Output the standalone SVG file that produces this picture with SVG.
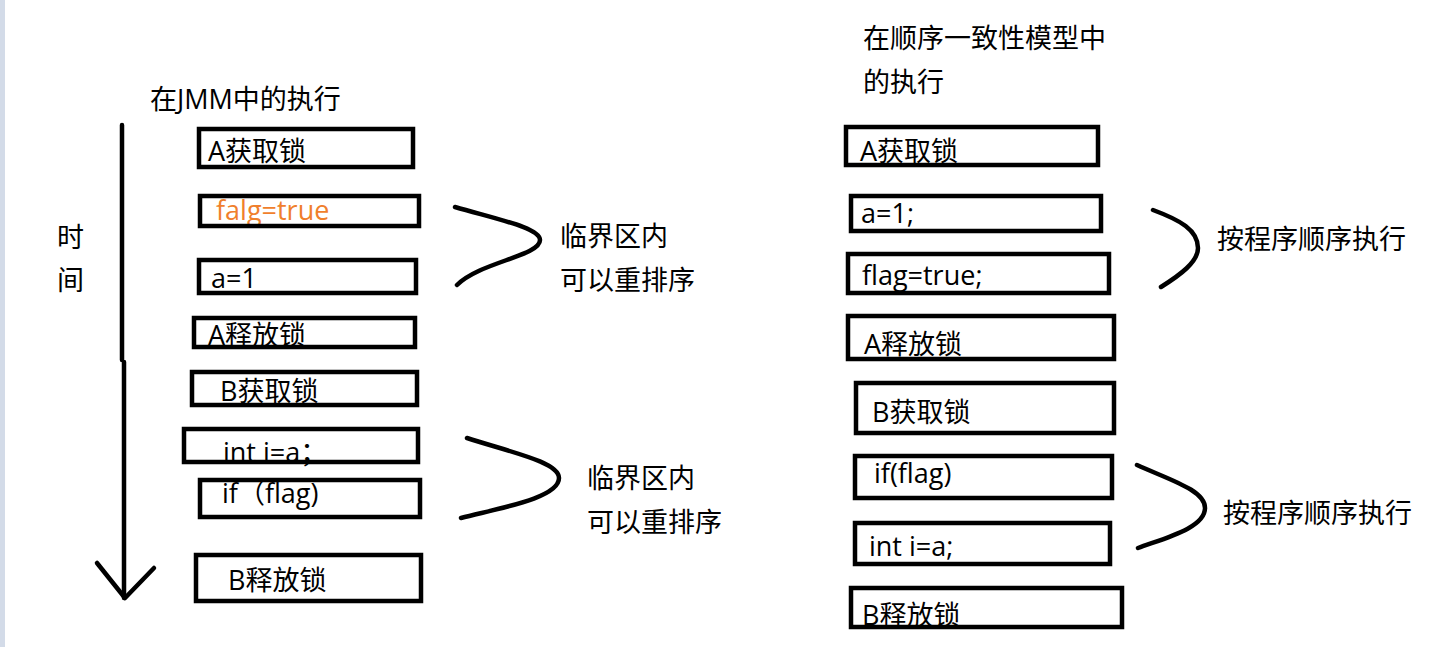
<svg xmlns="http://www.w3.org/2000/svg" width="1448" height="647" viewBox="0 0 1448 647">
<style>
text{font-family:"Open Sans","Noto Sans CJK SC",sans-serif;font-size:27px;fill:#000}
.box{fill:none;stroke:#000;stroke-width:4.5}
.ln{fill:none;stroke:#000;stroke-width:4.5;stroke-linecap:round;stroke-linejoin:round}
.or{fill:#f07f2c}
</style>
<rect x="0" y="0" width="1448" height="647" fill="#ffffff"/>
<rect x="0" y="0" width="5" height="647" fill="#d3dbe8"/>

<g id="title-left"><text x="150" y="109">在JMM中的执行</text></g>
<g id="title-right"><text x="863" y="48">在顺序一致性模型中</text><text x="863" y="92">的执行</text></g>
<g id="time-label"><text x="57" y="247">时</text><text x="57" y="290">间</text></g>

<g id="connectors">
<path class="ln" d="M122,125 L122,360 M124,362 L124,598"/>
<path class="ln" d="M97,563 L125,598 L154,568"/>
<path class="ln" d="M455,207 C500,220 540,228 540,240 C540,256 480,262 457,285"/>
<path class="ln" d="M467,438 C510,452 559,462 559,478 C559,498 500,508 461,518"/>
<path class="ln" d="M1153,210 C1180,220 1198,230 1198,248 C1198,262 1180,275 1161,287"/>
<path class="ln" d="M1137,465 C1170,480 1205,490 1205,508 C1205,528 1165,538 1138,548"/>
</g>

<g id="l1"><text x="208" y="161">A获取锁</text><rect class="box" x="199" y="129" width="214" height="38"/></g>
<g id="l2"><text class="or" x="216" y="220">falg=true</text><rect class="box" x="200" y="196" width="219" height="30"/></g>
<g id="l3"><text x="211" y="288">a=1</text><rect class="box" x="199" y="260" width="217" height="33"/></g>
<g id="l4"><text x="208" y="345">A释放锁</text><rect class="box" x="194" y="318" width="221" height="29"/></g>
<g id="l5"><text x="220" y="401">B获取锁</text><rect class="box" x="192" y="372" width="225" height="33"/></g>
<g id="l6"><text x="223" y="462">int i=a；</text><rect class="box" x="184" y="429" width="234" height="33"/></g>
<g id="l7"><text x="222" y="503">if（flag)</text><rect class="box" x="200" y="480" width="220" height="37"/></g>
<g id="l8"><text x="228" y="590">B释放锁</text><rect class="box" x="196" y="555" width="225" height="46"/></g>

<g id="note-l1"><text x="560" y="246">临界区内</text><text x="560" y="290">可以重排序</text></g>
<g id="note-l2"><text x="587" y="488">临界区内</text><text x="587" y="532">可以重排序</text></g>

<g id="r1"><text x="860" y="161">A获取锁</text><rect class="box" x="846" y="127" width="252" height="38"/></g>
<g id="r2"><text x="861" y="223">a=1;</text><rect class="box" x="851" y="196" width="250" height="35"/></g>
<g id="r3"><text x="862" y="285">flag=true;</text><rect class="box" x="848" y="254" width="261" height="39"/></g>
<g id="r4"><text x="864" y="354">A释放锁</text><rect class="box" x="848" y="316" width="266" height="43"/></g>
<g id="r5"><text x="872" y="422">B获取锁</text><rect class="box" x="856" y="383" width="258" height="50"/></g>
<g id="r6"><text x="874" y="483">if(flag)</text><rect class="box" x="855" y="456" width="257" height="42"/></g>
<g id="r7"><text x="869" y="556">int i=a;</text><rect class="box" x="855" y="523" width="255" height="41"/></g>
<g id="r8"><text x="862" y="625">B释放锁</text><rect class="box" x="851" y="588" width="271" height="39"/></g>

<g id="note-r1"><text x="1217" y="249">按程序顺序执行</text></g>
<g id="note-r2"><text x="1223" y="523">按程序顺序执行</text></g>
</svg>
